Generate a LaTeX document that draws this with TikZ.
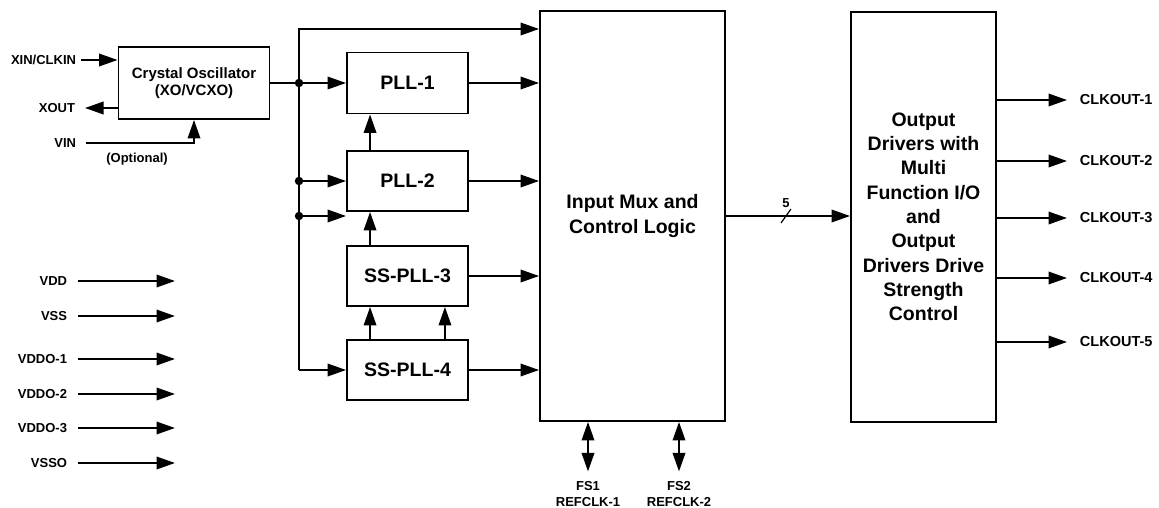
\documentclass[tikz,border=0pt]{standalone}
\usepackage{fontspec}
\setmainfont{Liberation Sans}
\usetikzlibrary{arrows.meta}

\begin{document}
\begin{tikzpicture}[x=1pt,y=-1pt,line width=1.9pt,
        >={Triangle[length=18.5pt,width=12.5pt]},
        blk/.style={draw,inner sep=0pt,align=center,
                    font=\bfseries\fontsize{19.5}{24.3}\selectfont},
        lbl/.style={inner sep=0pt,font=\bfseries\fontsize{13}{16}\selectfont},
        clklbl/.style={inner sep=0pt,font=\bfseries\fontsize{14.5}{17}\selectfont}]

        \useasboundingbox (0,0) rectangle (1159,508);

        \def \busx{299};
        \def \pllx{407.5};

        % crystal oscillator
        \node[blk,minimum width=151pt,minimum height=72pt,
              font=\bfseries\fontsize{15}{17.7}\selectfont] (osc) at (194,83) {Crystal Oscillator\\(XO/VCXO)};
        \node[lbl,anchor=east] (xin)  at (77,60)  {XIN/CLKIN};
        \node[lbl,anchor=east] (xout) at (76,108) {XOUT};
        \node[lbl,anchor=east] (vin)  at (77,143) {VIN};
        \node[lbl] (opt) at (137,159) {(Optional)};

        \draw[->,shorten <=4pt] (xin) -- (xin -| osc.west);
        \draw[->,shorten >=9pt] (xout -| osc.west) -- (xout);
        \draw[->,shorten <=9pt] (vin) -| (osc.south);

        % supply pins
        \coordinate (pwrend) at (175,0);
        \node[lbl,anchor=east] (vdd)   at (68,281) {VDD};
        \node[lbl,anchor=east] (vss)   at (68,316) {VSS};
        \node[lbl,anchor=east] (vddo1) at (68,359) {VDDO-1};
        \node[lbl,anchor=east] (vddo2) at (68,394) {VDDO-2};
        \node[lbl,anchor=east] (vddo3) at (68,428) {VDDO-3};
        \node[lbl,anchor=east] (vsso)  at (68,463) {VSSO};

        \draw[->,shorten <=10pt] (vdd)   -- (vdd -| pwrend);
        \draw[->,shorten <=10pt] (vss)   -- (vss -| pwrend);
        \draw[->,shorten <=10pt] (vddo1) -- (vddo1 -| pwrend);
        \draw[->,shorten <=10pt] (vddo2) -- (vddo2 -| pwrend);
        \draw[->,shorten <=10pt] (vddo3) -- (vddo3 -| pwrend);
        \draw[->,shorten <=10pt] (vsso)  -- (vsso -| pwrend);

        % PLL column
        \node[blk,minimum width=121pt,minimum height=61pt] (pll1) at (\pllx,83)  {PLL-1};
        \node[blk,minimum width=121pt,minimum height=60pt] (pll2) at (\pllx,181) {PLL-2};
        \node[blk,minimum width=121pt,minimum height=60pt] (ss3)  at (\pllx,276) {SS-PLL-3};
        \node[blk,minimum width=121pt,minimum height=60pt] (ss4)  at (\pllx,370) {SS-PLL-4};

        \draw[->] ([xshift=24pt]pll2.north west) -- ([xshift=24pt]pll1.south west);
        \draw[->] ([xshift=24pt]ss3.north west)  -- ([xshift=24pt]pll2.south west);
        \draw[->] ([xshift=24pt]ss4.north west)  -- ([xshift=24pt]ss3.south west);
        \draw[->] ([xshift=-24pt]ss4.north east) -- ([xshift=-24pt]ss3.south east);

        % mux and output drivers
        \node[blk,minimum width=185pt,minimum height=410pt] (mux) at (632.5,216) {Input Mux and\\Control Logic};
        \node[blk,minimum width=145pt,minimum height=410pt] (drv) at (923.5,216.7)
              {Output\\Drivers with\\Multi\\Function I/O\\and\\Output\\Drivers Drive\\Strength\\Control};

        % clock bus
        \coordinate (b0) at (\busx,29);
        \coordinate (b1) at (\busx,83);
        \coordinate (b2) at (\busx,181);
        \coordinate (b3) at (\busx,216);
        \coordinate (b4) at (\busx,370);

        \draw (osc.east) -- (b1);
        \draw[->] (b4) -- (b0) -- (b0 -| mux.west);
        \draw[->] (b1) -- (pll1.west);
        \draw[->] (b2) -- (pll2.west);
        \draw[->] (b3) -- (b3 -| pll2.west);
        \draw[->] (b4) -- (ss4.west);
        \filldraw (b1) circle (3.2pt);
        \filldraw (b2) circle (3.2pt);
        \filldraw (b3) circle (3.2pt);

        \draw[->] (pll1.east) -- (pll1.east -| mux.west);
        \draw[->] (pll2.east) -- (pll2.east -| mux.west);
        \draw[->] (ss3.east)  -- (ss3.east -| mux.west);
        \draw[->] (ss4.east)  -- (ss4.east -| mux.west);

        % 5 wide bus
        \coordinate (slash) at (786,216);
        \draw[->] (mux.east) -- (mux.east -| drv.west);
        \draw[line width=1.2pt] ([shift={(-5,7)}]slash) -- ([shift={(5,-7)}]slash);
        \node[lbl] (five) at (786,203) {5};

        % clock outputs
        \node[clklbl,anchor=west] (clk1) at (1079,100) {CLKOUT-1};
        \node[clklbl,anchor=west] (clk2) at (1079,161) {CLKOUT-2};
        \node[clklbl,anchor=west] (clk3) at (1079,218) {CLKOUT-3};
        \node[clklbl,anchor=west] (clk4) at (1079,278) {CLKOUT-4};
        \node[clklbl,anchor=west] (clk5) at (1079,342) {CLKOUT-5};

        \draw[->,shorten >=12pt] (clk1 -| drv.east) -- (clk1);
        \draw[->,shorten >=12pt] (clk2 -| drv.east) -- (clk2);
        \draw[->,shorten >=12pt] (clk3 -| drv.east) -- (clk3);
        \draw[->,shorten >=12pt] (clk4 -| drv.east) -- (clk4);
        \draw[->,shorten >=12pt] (clk5 -| drv.east) -- (clk5);

        % frequency select pins
        \node[lbl,align=center] (fs1) at (588,494) {FS1\\REFCLK-1};
        \node[lbl,align=center] (fs2) at (679,494) {FS2\\REFCLK-2};
        \draw[<->,shorten >=9pt] (fs1 |- mux.south) -- (fs1);
        \draw[<->,shorten >=9pt] (fs2 |- mux.south) -- (fs2);
\end{tikzpicture}
\end{document}
